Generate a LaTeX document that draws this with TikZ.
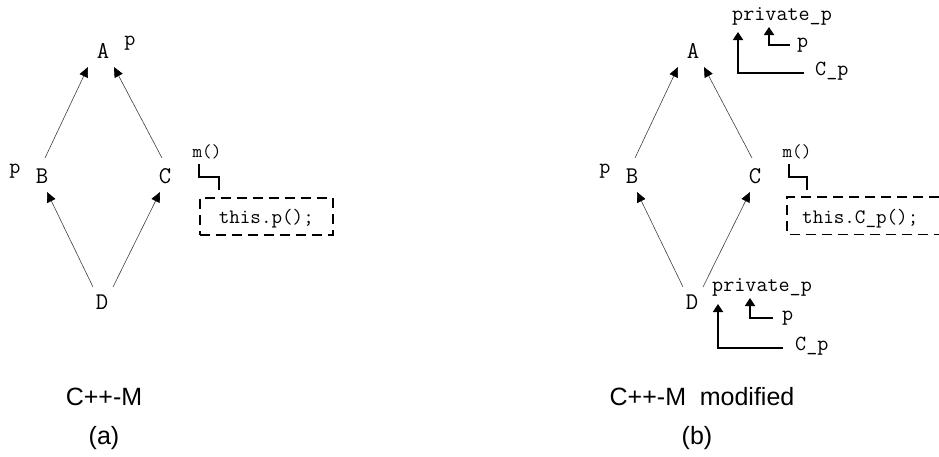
\documentclass[tikz,border=0pt]{standalone}
\usepackage{fontspec}
\setmainfont{Liberation Sans}
\usetikzlibrary{arrows.meta,calc}
\begin{document}
\begin{tikzpicture}[x=1pt,y=-1pt,
  vtx/.style={inner sep=0pt,anchor=base,font=\ttfamily\fontsize{24}{26}\selectfont},
  lbl/.style={inner sep=0pt,font=\ttfamily\fontsize{21.5}{23}\selectfont},
  mlbl/.style={inner sep=0pt,anchor=base,font=\ttfamily\fontsize{18.5}{20}\selectfont},
  captxt/.style={inner sep=0pt,anchor=base,font=\fontsize{25}{28}\selectfont},
  edge/.style={draw=black!75,line width=0.6pt,-{Triangle[length=10pt,width=9pt,color=black]}},
  ann/.style={draw=black,line width=1.8pt,-{Triangle[length=8pt,width=10pt]}},
  stepline/.style={draw=black,line width=1.8pt},
  dashbox/.style={draw=black,line width=1.6pt,dash pattern=on 10pt off 6pt},
  codetxt/.style={inner ysep=0pt,text height=17pt,text depth=2pt,minimum height=37pt,
    font=\ttfamily\fontsize{20.5}{22}\selectfont}
]
\useasboundingbox (0,0) rectangle (939,456);
\coordinate (edgeR) at (939,0);

% ---------- (a) ----------
\node[vtx] (A) at (103,58) {A};
\node[vtx] (B) at (42,183) {B};
\node[vtx] (C) at (165,183) {C};
\node[vtx] (D) at (102,309) {D};
\node[lbl,anchor=base] (pA) at (130,45) {p};
\node[lbl,anchor=base] (pB) at (15,173) {p};

\draw[edge] ($(B.base)+(3,-25)$) -- ($(A.base)+(-15,9)$);
\draw[edge] ($(C.base)+(-3,-25)$) -- ($(A.base)+(11,9)$);
\draw[edge] ($(D.base)+(-9,-22)$) -- ($(B.base)+(5,9)$);
\draw[edge] ($(D.base)+(11,-22)$) -- ($(C.base)+(-5,9)$);

\node[mlbl] (m1) at (207,157) {m()};
\node[codetxt,draw=black,line width=1.6pt,dash pattern=on 10pt off 6pt,
  inner xsep=19pt,anchor=north west] (box1) at (199,197) {this.p();};
\draw[stepline] ($(m1.base)+(-8,7)$) -- ++(0,13) -| ($(box1.north west)+(20,-7)$);

\node[captxt] (capa) at (104,405) {C++-M};
\node[captxt] (laba) at (104,444) {(a)};

% ---------- (b) ----------
\node[vtx] (A2) at (693,58) {A};
\node[vtx] (B2) at (632,183) {B};
\node[vtx] (C2) at (755,183) {C};
\node[vtx] (D2) at (692,309) {D};
\node[lbl,anchor=base] (pB2) at (605,173) {p};

\draw[edge] ($(B2.base)+(3,-25)$) -- ($(A2.base)+(-15,9)$);
\draw[edge] ($(C2.base)+(-3,-25)$) -- ($(A2.base)+(11,9)$);
\draw[edge] ($(D2.base)+(-9,-22)$) -- ($(B2.base)+(5,9)$);
\draw[edge] ($(D2.base)+(11,-22)$) -- ($(C2.base)+(-5,9)$);

% annotations at A
\node[lbl,anchor=base west] (pp1) at (732,20) {private\_p};
\node[lbl,anchor=mid west] (p1) at (797,45) {p};
\node[lbl,anchor=mid west] (Cp1) at (815,73) {C\_p};
\draw[ann] ($(p1.mid west)+(-7,0)$) -| ($(pp1.base west)+(37,7)$);
\draw[ann] ($(Cp1.mid west)+(-11,0)$) -| ($(pp1.base west)+(6,12)$);

% annotations at D
\node[lbl,anchor=base west] (pp2) at (712,291) {private\_p};
\node[lbl,anchor=mid west] (p2) at (782,318) {p};
\node[lbl,anchor=mid west] (Cp2) at (795,348) {C\_p};
\draw[ann] ($(p2.mid west)+(-9,0)$) -| ($(pp2.base west)+(38,7)$);
\draw[ann] ($(Cp2.mid west)+(-12,0)$) -| ($(pp2.base west)+(6,13)$);

% m() and code box
\node[mlbl] (m2) at (797,157) {m()};
\node[codetxt,inner xsep=15pt,anchor=north west] (box2) at (787,197) {this.C\_p();};
\draw[dashbox] (box2.north west -| edgeR) -- (box2.north west) -- (box2.south west) -- (box2.south west -| edgeR);
\draw[stepline] ($(m2.base)+(-8,7)$) -- ++(0,13) -| ($(box2.north west)+(20,-7)$);

\node[captxt] (capb) at (702,405) {C++-M\hspace{0.55em}modified};
\node[captxt] (labb) at (697,444) {(b)};
\end{tikzpicture}
\end{document}
